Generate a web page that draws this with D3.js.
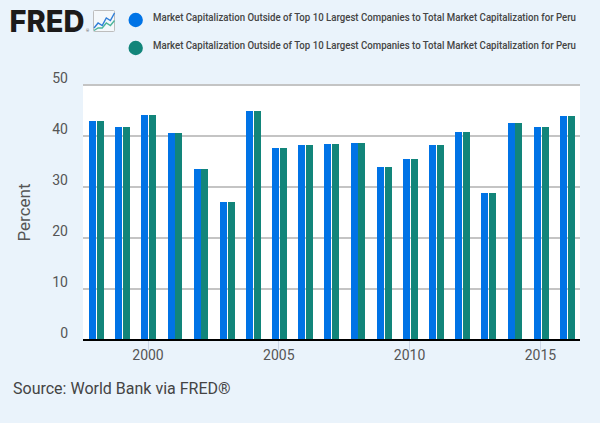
<!DOCTYPE html>
<html>
<head>
<meta charset="utf-8">
<script src="https://cdnjs.cloudflare.com/ajax/libs/d3/7.8.5/d3.min.js"></script>
<style>
  html, body { margin: 0; padding: 0; background: #eaf3fb; }
  svg { display: block; }
  text { font-family: Roboto, sans-serif; }
  .axis path, .axis line { shape-rendering: crispEdges; }
  .bar { shape-rendering: crispEdges; }
</style>
</head>
<body>
<svg id="graph" width="600" height="423"></svg>
<script>
var years = [1998, 1999, 2000, 2001, 2002, 2003, 2004, 2005, 2006, 2007, 2008, 2009, 2010, 2011, 2012, 2013, 2014, 2015, 2016]
var series1 = [42.9, 41.7, 44.1, 40.6, 33.5, 27.0, 45.0, 37.6, 38.2, 38.4, 38.6, 33.9, 35.4, 38.2, 40.7, 28.8, 42.5, 41.7, 43.9]
var series2 = [42.9, 41.7, 44.1, 40.6, 33.5, 27.0, 45.0, 37.6, 38.2, 38.4, 38.6, 33.9, 35.4, 38.2, 40.7, 28.8, 42.5, 41.7, 43.9]
var yTicks = [0, 10, 20, 30, 40, 50]
var xTicks = [2000, 2005, 2010, 2015]
var legendLabels = [
    "Market Capitalization Outside of Top 10 Largest Companies to Total Market Capitalization for Peru",
    "Market Capitalization Outside of Top 10 Largest Companies to Total Market Capitalization for Peru"
]
var colors = ["#0073e6", "#12857a"]
var iconBlue = [1, 3, 2, 5, 4, 7]
var iconGreen = [0, 1, 1, 3, 2, 4]

var margin = { top: 85, right: 20, bottom: 83, left: 83 }
var width = 600 - margin.left - margin.right
var height = 423 - margin.top - margin.bottom

var svg = d3.select("#graph")

// logo
svg.append("text")
    .attr("x", 9.5).attr("y", 32)
    .attr("textLength", 75).attr("lengthAdjust", "spacingAndGlyphs")
    .style("font-family", "Inter, sans-serif")
    .style("font-weight", 800).style("font-size", "30px")
    .attr("fill", "#1c1a1a")
    .text("FRED")
svg.append("text").attr("x", 86).attr("y", 32)
    .style("font-size", "4px").attr("fill", "#555").text("®")

var icon = svg.append("g").attr("transform", "translate(93.5,10.5)")
icon.append("rect").attr("width", 21).attr("height", 21).attr("rx", 1)
    .attr("fill", "#f4f8fb").attr("stroke", "#bdbdbd")
var iconX = d3.scaleLinear().domain([0, 5]).range([0.5, 21])
var iconY = d3.scaleLinear().domain([0, 8]).range([20, 0])
var iconLine = d3.line().x((d, i) => iconX(i)).y(d => iconY(d))
icon.append("path").attr("d", iconLine(iconBlue)).attr("fill", "none").attr("stroke", "#2f7ed8").attr("stroke-width", 1.4)
icon.append("path").attr("d", iconLine(iconGreen)).attr("fill", "none").attr("stroke", "#4cb59c").attr("stroke-width", 1.4)

// legend
var legend = svg.selectAll(".legend").data(legendLabels).enter().append("g")
    .attr("class", "legend")
    .attr("transform", (d, i) => "translate(0," + (20 + i * 28) + ")")
legend.append("circle").attr("cx", 135.7).attr("cy", 0).attr("r", 7.2).attr("fill", (d, i) => colors[i])
legend.append("text").attr("x", 153).attr("y", 0.5)
    .attr("textLength", 423).attr("lengthAdjust", "spacingAndGlyphs")
    .attr("fill", "#444").style("font-size", "10px").style("font-weight", 500)
    .text(d => d)

var g = svg.append("g").attr("transform", "translate(" + margin.left + "," + margin.top + ")")
g.append("rect").attr("width", width).attr("height", height).attr("fill", "#fff")

var yearPx = 26.16
var xStart = 2000 - 64.5 / yearPx
var xScale = d3.scaleLinear().domain([xStart, xStart + width / yearPx]).range([0, width])
var yScale = d3.scaleLinear().domain([0, 50]).range([height, 0])

g.selectAll(".grid").data(yTicks.slice(1)).enter().append("line")
    .attr("class", "grid")
    .attr("x1", 0).attr("x2", width)
    .attr("y1", d => yScale(d)).attr("y2", d => yScale(d))
    .attr("stroke", "#c4c4c4").attr("stroke-width", 2)

g.selectAll(".bar1").data(years).enter().append("rect")
    .attr("class", "bar bar1")
    .attr("x", d => Math.round(xScale(d) - 6.14))
    .attr("width", 7)
    .attr("y", (d, i) => yScale(series1[i]))
    .attr("height", (d, i) => height - yScale(series1[i]))
    .attr("fill", colors[0])
g.selectAll(".bar2").data(years).enter().append("rect")
    .attr("class", "bar bar2")
    .attr("x", d => Math.round(xScale(d) + 1.67))
    .attr("width", 7)
    .attr("y", (d, i) => yScale(series2[i]))
    .attr("height", (d, i) => height - yScale(series2[i]))
    .attr("fill", colors[1])

// x axis
var xAxis = g.append("g").attr("class", "axis").attr("transform", "translate(0," + height + ")")
    .call(d3.axisBottom(xScale).tickValues(xTicks).tickFormat(d3.format("d")).tickSize(10).tickPadding(0))
xAxis.select(".domain").remove()
xAxis.selectAll("line").attr("stroke", "#ccd6e6")
xAxis.selectAll("text").attr("fill", "#555").style("font-size", "14px")

g.append("line").attr("x1", 0).attr("x2", width).attr("y1", height).attr("y2", height)
    .attr("stroke", "#000").attr("stroke-width", 2)

// y axis labels
var yAxis = g.append("g").attr("class", "axis")
    .call(d3.axisLeft(yScale).tickValues(yTicks).tickSize(0).tickPadding(15))
yAxis.select(".domain").remove()
yAxis.selectAll("text").attr("fill", "#555").style("font-size", "14px")
    .attr("dy", 0).attr("y", -3)

svg.append("text")
    .attr("transform", "translate(30,212.5) rotate(-90)")
    .attr("text-anchor", "middle")
    .attr("fill", "#555").style("font-size", "17px")
    .text("Percent")

svg.append("text").attr("x", 13).attr("y", 394)
    .attr("fill", "#444").style("font-size", "16px")
    .text("Source: World Bank via FRED®")
</script>
</body>
</html>
